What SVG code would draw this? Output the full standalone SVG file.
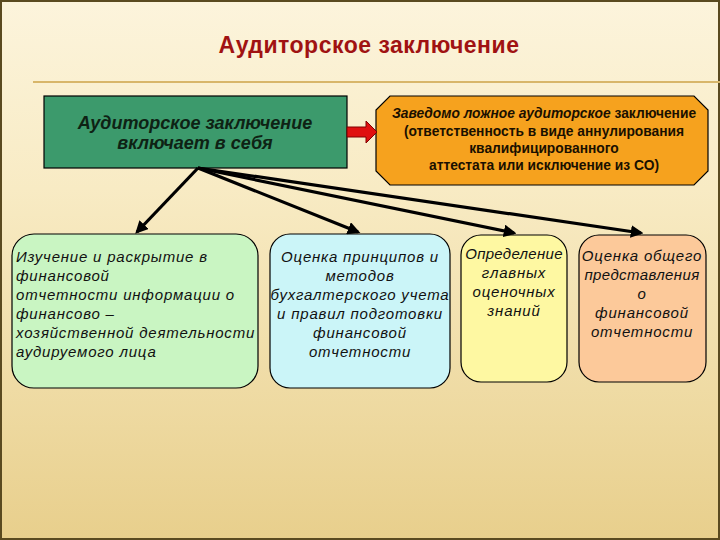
<svg xmlns="http://www.w3.org/2000/svg" width="720" height="540" viewBox="0 0 720 540">
<defs>
<linearGradient id="bg" x1="0" y1="0" x2="0" y2="1">
<stop offset="0" stop-color="#fcf4dc"/>
<stop offset="0.35" stop-color="#f8ebc4"/>
<stop offset="1" stop-color="#e8cf8c"/>
</linearGradient>
<marker id="ah" viewBox="0 0 10 10" refX="8" refY="5" markerWidth="4" markerHeight="4" orient="auto" markerUnits="strokeWidth">
<path d="M0,0 L10,5 L0,10 z" fill="#000"/>
</marker>
<style>
.t{font-family:"Liberation Sans",Arial,sans-serif;}
.box{stroke:#000;stroke-width:1.2;}
.it{font-family:"Liberation Sans",Arial,sans-serif;font-style:italic;font-size:15px;letter-spacing:0.8px;fill:#111;}
.ob{font-family:"Liberation Sans",Arial,sans-serif;font-size:13.8px;font-weight:bold;fill:#1a1000;}
.con{stroke:#000;stroke-width:3.2;fill:none;marker-end:url(#ah);}
</style>
</defs>
<rect x="0" y="0" width="720" height="540" fill="url(#bg)"/>
<rect x="1" y="1" width="718" height="538" fill="none" stroke="#5a4a20" stroke-width="2"/>
<line x1="33" y1="82" x2="720" y2="82" stroke="#d8b66a" stroke-width="2"/>
<text class="t" x="369" y="53" text-anchor="middle" font-size="23" font-weight="bold" letter-spacing="0.5" fill="#a01212">Аудиторское заключение</text>

<g id="main">
<rect class="box" x="44" y="96" width="303" height="72" fill="#3c9a6c"/>
<text class="t" x="195" y="129" text-anchor="middle" font-size="18" font-weight="bold" font-style="italic" fill="#0e2214">Аудиторское заключение</text>
<text class="t" x="195" y="149" text-anchor="middle" font-size="18" font-weight="bold" font-style="italic" fill="#0e2214">включает в себя</text>
</g>

<g id="false">
<polygon class="box" points="390,96 694,96 708,110 708,171 694,185 390,185 376,171 376,110" fill="#f6a21e"/>
<text class="ob" x="544" y="118" text-anchor="middle"><tspan font-style="italic">Заведомо ложное  аудиторское</tspan> заключение</text>
<text class="ob" x="544" y="136" text-anchor="middle">(ответственность в виде аннулирования</text>
<text class="ob" x="544" y="153" text-anchor="middle">квалифицированного</text>
<text class="ob" x="544" y="170" text-anchor="middle">аттестата или исключение из СО)</text>
</g>

<g id="n1">
<rect class="box" x="12" y="234" width="246" height="154" rx="22" fill="#c9f5c2"/>
<text class="it" x="16" y="262">Изучение и раскрытие в</text>
<text class="it" x="16" y="281">финансовой</text>
<text class="it" x="16" y="300">отчетности информации о</text>
<text class="it" x="16" y="319">финансово –</text>
<text class="it" x="16" y="338">хозяйственной деятельности</text>
<text class="it" x="16" y="357">аудируемого лица</text>
</g>

<g id="n2">
<rect class="box" x="270" y="234" width="180" height="154" rx="20" fill="#cbf5f8"/>
<text class="it" x="360" y="262" text-anchor="middle">Оценка принципов и</text>
<text class="it" x="360" y="281" text-anchor="middle">методов</text>
<text class="it" x="360" y="300" text-anchor="middle">бухгалтерского учета</text>
<text class="it" x="360" y="319" text-anchor="middle">и правил подготовки</text>
<text class="it" x="360" y="338" text-anchor="middle">финансовой</text>
<text class="it" x="360" y="357" text-anchor="middle">отчетности</text>
</g>

<g id="n3">
<rect class="box" x="461" y="235" width="106" height="147" rx="20" fill="#fef8a2"/>
<text class="it" x="514" y="259" text-anchor="middle" style="letter-spacing:0.3px">Определение</text>
<text class="it" x="514" y="278" text-anchor="middle">главных</text>
<text class="it" x="514" y="297" text-anchor="middle">оценочных</text>
<text class="it" x="514" y="316" text-anchor="middle">знаний</text>
</g>

<g id="n4">
<rect class="box" x="579" y="235" width="127" height="147" rx="20" fill="#fcc99a"/>
<text class="it" x="642" y="261" text-anchor="middle">Оценка общего</text>
<text class="it" x="642" y="280" text-anchor="middle" style="letter-spacing:0.4px">представления</text>
<text class="it" x="642" y="299" text-anchor="middle">о</text>
<text class="it" x="642" y="318" text-anchor="middle">финансовой</text>
<text class="it" x="642" y="337" text-anchor="middle">отчетности</text>
</g>

<g id="connectors">
<polygon points="347,127 366,127 366,121 377,132 366,143 366,137 347,137" fill="#e01010" stroke="#800000" stroke-width="1"/>
<line class="con" x1="198" y1="168" x2="137" y2="232"/>
<line class="con" x1="198" y1="168" x2="358" y2="232"/>
<line class="con" x1="198" y1="168" x2="514" y2="233"/>
<line class="con" x1="198" y1="168" x2="641" y2="233"/>
</g>
</svg>
